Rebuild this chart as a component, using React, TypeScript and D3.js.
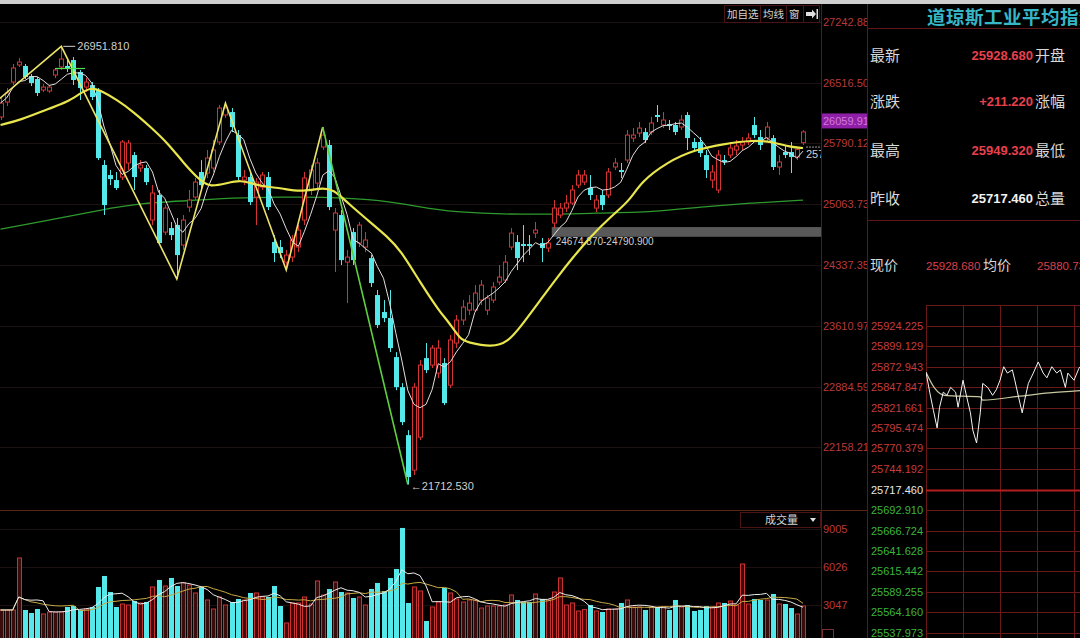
import React from 'react';
import * as d3 from 'd3';

// ---------- Daily candles (Dow Jones Industrial Average) ----------
const OPEN = [26107,26286,26525,26729,26717,26597,26561,26430,26418,26609,26705,26717,26788,26645,26465,26489,26430,25533,25413,25353,25389,25557,25652,25497,25497,24875,25174,24731,24779,24815,24576,25030,25150,25449,25437,25497,25808,26131,26166,25891,25353,25389,25150,25269,25389,24612,24552,24372,24432,24552,24875,25234,25317,25748,25772,24755,24935,24372,24731,24600,24552,24420,23978,23775,23703,23236,22877,22303,21885,22279,23224,23141,23045,23165,22901,23404,23679,23798,23798,23918,23798,23918,24133,24157,24552,24612,24588,24588,24719,24600,24540,24839,24935,25018,25078,25293,25329,25258,25018,25174,25174,25509,25473,25592,25855,25915,25927,25927,26131,26011,26023,26011,25987,26131,25808,25808,25652,25353,25234,25592,25652,25712,25772,25808,26011,25867,25855,25855,25509,25688,25688,25628,25800];
const HIGH = [26334,26453,26741,26812,26741,26621,26585,26501,26489,26693,26951.81,26788,26824,26669,26573,26525,26453,25592,25473,25449,25832,25832,25688,25592,25533,25293,25234,25054,24851,24899,24935,25234,25377,25592,25712,25832,26250,26274,26214,25951,25473,25449,25377,25449,25449,24695,24636,24516,24695,24815,25449,25533,25616,25987,25832,25018,24994,24516,24779,24851,24731,24456,24038,23918,24038,23296,22925,22363,22925,23200,23404,23380,23440,23224,23499,23739,23918,23978,24097,24157,23978,24133,24337,24456,24779,24695,24815,24695,24851,24660,24660,25114,25078,25174,25293,25473,25473,25413,25174,25234,25497,25616,25557,25951,25975,26047,25975,26107,26250,26166,26071,26047,26131,26166,25855,25867,25712,25533,25712,25652,25808,25832,25867,25915,26107,25951,26047,25891,25652,25772,25808,25736,25949.32];
const LOW = [26071,26238,26489,26705,26561,26477,26358,26406,26394,26573,26669,26645,26489,26310,26406,26310,25592,24935,25293,25234,25353,25473,25234,25449,25293,24815,24576,24695,24636,24170,24516,24971,25114,25258,25377,25449,25772,26095,25927,25353,25293,25054,24815,25234,24994,24372,24420,24277,24372,24492,24815,25174,25258,25712,24994,24253,24337,23882,24337,24552,24492,24074,23583,23655,23296,22841,22423,21712.53,21825,22244,23045,23105,22985,22662,22865,23344,23619,23739,23775,23858,23739,23882,24097,24121,24516,24277,24372,24456,24660,24372,24492,24779,24899,24971,25054,25258,25293,25114,24971,24994,25138,25473,25377,25557,25808,25867,25796,25891,26047,25975,25951,25891,25951,25712,25688,25628,25377,25258,25198,25533,25616,25652,25712,25772,25855,25712,25808,25473,25413,25616,25437,25592,25772];
const CLOSE = [26274,26394,26693,26764,26585,26513,26394,26465,26465,26669,26800,26693,26549,26453,26525,26346,25616,25054,25365,25258,25808,25796,25389,25533,25329,25198,24600,25018,24695,24456,24875,25114,25329,25293,25616,25712,26214,26214,25987,25389,25389,25090,25329,25413,25030,24480,24480,24456,24636,24755,25377,25473,25557,25891,25030,24959,24396,24432,24396,24815,24636,24121,23619,23703,23344,22877,22459,21801,22877,23141,23081,23344,23344,22686,23440,23679,23834,23882,24002,24097,23942,24074,24193,24372,24719,24420,24564,24564,24755,24540,24600,25018,25018,25078,25234,25413,25413,25174,25114,25054,25449,25557,25449,25891,25891,25975,25832,26035,26107,26071,25999,25927,26071,25855,25736,25676,25473,25449,25652,25569,25736,25760,25808,25855,25891,25772,25987,25509,25569,25652,25628,25717.46,25928.68];
const VOLUME = [2658,2658,2658,6735,2658,2423,2736,2344,2501,2501,2501,2893,2971,2658,2736,2893,4461,5323,4069,2893,3128,3050,3363,3207,3285,4461,5010,4539,5167,4539,4775,4618,3991,4461,3442,2736,3677,3050,3285,3520,3442,3991,3991,3677,3677,4539,2971,1639,3207,3207,3677,3128,4931,3834,4304,4853,4069,3991,3599,3677,3050,4304,4775,4147,5167,5872,9087,3207,4461,4147,1795,2893,3285,4383,3991,3520,3285,3442,3442,2815,2971,2971,2971,3050,3834,3442,3285,3285,3912,3520,3442,4069,5167,3050,3207,2579,2700,3050,2579,2501,2736,2736,3207,3442,2893,2893,2658,2893,2893,2893,2658,3442,2893,3050,2579,2658,2971,2893,3207,3207,3363,3050,6264,3128,3520,3442,3442,3912,3128,3128,2815,2344,2971];

// moving averages (yellow MA20, green long MA)
const MA20_IDX = [0,3.3,8.2,11,13.2,14.8,16.1,19.2,21.9,24.7,27.5,30.1,32.9,34.5,37.3,39.5,41.6,43.9,46.1,49.3,52.6,54.8,57.1,60.4,63.7,65.8,69.1,72.4,73.5,75.7,76.8,80.6,83.4,86,88.8,91.6,94.2,97,100.3,103.6,105.3,109.7,114,118.9,123.8,127.1,129.9,132];
const MA20_VAL = [26011,26071,26214,26286,26394,26453,26441,26310,26166,25987,25796,25557,25341,25269,25317,25353,25305,25269,25258,25210,25258,25246,25078,24875,24672,24516,24121,23762,23679,23440,23416,23356,23404,23643,23918,24193,24432,24672,24911,25114,25329,25569,25712,25784,25832,25808,25748,25736];
const MALONG_IDX = [0,8.2,16.4,23,32.9,37.8,46,54.3,62.5,69.1,74,85.5,98.7,107.4,115.1,123.4,132];
const MALONG_VAL = [24767,24875,24994,25078,25114,25138,25150,25150,25114,25030,24971,24935,24959,24971,25030,25078,25114];

// hand-drawn trend lines
const ZIGZAG_IDX = [-1,10,29,37,47,53];
const ZIGZAG_VAL = [26274,26951.81,24170,26274,24277,25987];
const GREEN_TREND_IDX = [53,67];
const GREEN_TREND_VAL = [25987,21712.53];

const PRICE_TICKS = [27242.88,26516.50,25790.12,25063.73,24337.35,23610.97,22884.59,22158.21];
const PRICE_TICK_LABELS = ['27242.88','26516.50','25790.12','25063.73','24337.35','23610.97','22884.59','22158.21'];
const VOL_TICKS = [9005,6026,3047];
const CROSS_PRICE = 26059.91;
const BAND_LOW = 24674.87;
const BAND_HIGH = 24790.90;
const BAND_START = 91;
const BAND_LABEL = '24674.870-24790.900';
const HIGH_LABEL = '26951.810';
const LOW_LABEL = '21712.530';
const LAST_LABEL = '25717.460';

// right info panel
const TITLE = '道琼斯工业平均指数';
const INFO_LEFT = ['最新','涨跌','最高','昨收'];
const INFO_VALUES = ['25928.680','+211.220','25949.320','25717.460'];
const INFO_RIGHT = ['开盘','涨幅','最低','总量'];
const PREV_CLOSE = 25717.46;

// intraday panel
const INTRA_TICKS = [25924.225,25899.129,25872.943,25847.847,25821.661,25795.474,25770.379,25744.192,25717.460,25692.910,25666.724,25641.628,25615.442,25589.255,25564.160,25537.973];
const INTRA_MIN = [0,3,6,9,11,14,17,20,24,26,30,33,36,38,41,44,46,50,54,57,60,63,66,70,72,75,78,80,83,87,91,95,98,102,106,109,113,115,120,124,125];
const INTRA_PRICE = [25866,25841,25818,25796,25822,25841,25837,25847,25841,25822,25856,25835,25815,25793,25777,25815,25852,25847,25837,25844,25856,25873,25865,25869,25856,25835,25815,25831,25852,25865,25879,25865,25859,25873,25865,25869,25847,25865,25856,25871,25873];
const INTRA_AVG_MIN = [0,7,15,44,46,76,100,125];
const INTRA_AVG_PRICE = [25866,25846,25837,25835,25831,25836,25840,25843];
const INTRA_GRID_MIN = [0,30,60,90,120];

const SANS = '"Liberation Sans", Arial, sans-serif';
const CJK = '"Noto Sans CJK SC", sans-serif';
const RED = '#d43434';
const CYAN = '#54e8ea';
const AXIS_RED = '#b83a3a';
const LINE_RED = '#5e1616';

function movingAvg(arr: number[], n: number) {
  return arr.map((_, i) => d3.mean(arr.slice(Math.max(0, i - n + 1), i + 1)) as number);
}

export default function App() {
  const x = d3.scaleLinear().domain([0, 132]).range([0.5, 803]);
  const y = d3.scaleLinear().domain([22158.21, 27242.88]).range([447.25, 22]);
  const yv = d3.scaleLinear().domain([0, 9005]).range([643.9, 529]);
  const xi = d3.scaleLinear().domain([0, 30]).range([926, 963]);
  const yi = d3.scaleLinear().domain([25537.973, 25924.225]).range([633, 326]);

  const ma5 = movingAvg(CLOSE, 5);
  const vma5 = movingAvg(VOLUME, 5);
  const vma10 = movingAvg(VOLUME, 10);

  const lineIdx = d3.line<number>().x((_, i) => x(i)).y(d => y(d));
  const curve = (idx: number[], val: number[]) =>
    d3.line<number>().x((_, i) => x(idx[i])).y(d => y(d)).curve(d3.curveBasis)(val) || '';
  const straight = (idx: number[], val: number[]) =>
    d3.line<number>().x((_, i) => x(idx[i])).y(d => y(d))(val) || '';
  const volLine = d3.line<number>().x((_, i) => x(i)).y(d => yv(d));
  const intraLine = d3.line<number>().x((_, i) => xi(INTRA_MIN[i])).y(d => yi(d));
  const intraAvg = d3.line<number>().x((_, i) => xi(INTRA_AVG_MIN[i])).y(d => yi(d)).curve(d3.curveMonotoneX);

  const bw = 4;

  return (
    <div style={{ width: 1080, height: 638, background: '#000' }}>
      <style>{`body{margin:0;background:#000;overflow:hidden}`}</style>
      <svg width={1080} height={638} style={{ display: 'block', background: '#000' }}>
        <defs>
          <clipPath id="priceClip"><rect x={0} y={5} width={821} height={505} /></clipPath>
          <clipPath id="volClip"><rect x={0} y={511} width={821} height={127} /></clipPath>
          <clipPath id="axisClip"><rect x={821} y={0} width={46} height={638} /></clipPath>
          <clipPath id="panelClip"><rect x={868} y={0} width={212} height={638} /></clipPath>
          <clipPath id="intraClip"><rect x={926} y={305} width={154} height={333} /></clipPath>
        </defs>

        {/* top window strip */}
        <rect x={0} y={0} width={1080} height={4} fill="#cfcfcf" />

        {/* faint grid */}
        {PRICE_TICKS.map((t, k) => (
          <line key={'g' + k} x1={0} x2={821} y1={Math.round(y(t)) + 0.5} y2={Math.round(y(t)) + 0.5} stroke="#1c1212" />
        ))}

        <g clipPath="url(#priceClip)">
          {/* price band */}
          <rect x={x(BAND_START) - 2} y={y(BAND_HIGH)} width={821 - x(BAND_START) + 2} height={y(BAND_LOW) - y(BAND_HIGH)} fill="#595959" />
          <text x={x(BAND_START) + 2} y={y(BAND_LOW) + 8} fill="#cfcfcf" fontSize={10} fontFamily={SANS}>{BAND_LABEL}</text>

          {/* long MA */}
          <path d={curve(MALONG_IDX, MALONG_VAL)} fill="none" stroke="#2e9a2e" strokeWidth={1.3} />

          {/* candles */}
          {CLOSE.map((c, i) => {
            const o = OPEN[i];
            const up = c >= o;
            const cx = Math.round(x(i));
            const top = y(Math.max(o, c));
            const bot = y(Math.min(o, c));
            const h = Math.max(1, bot - top);
            if (up) {
              return (
                <g key={i}>
                  <line x1={cx + 0.5} x2={cx + 0.5} y1={y(HIGH[i])} y2={top} stroke={RED} />
                  <line x1={cx + 0.5} x2={cx + 0.5} y1={top + h} y2={y(LOW[i])} stroke={RED} />
                  <rect x={cx - 1.5} y={top} width={bw} height={h} fill="#000" stroke={RED} strokeWidth={1} />
                </g>
              );
            }
            return (
              <g key={i}>
                <line x1={cx + 0.5} x2={cx + 0.5} y1={y(HIGH[i])} y2={y(LOW[i])} stroke={CYAN} />
                <rect x={cx - 2} y={top} width={bw + 1} height={h} fill={CYAN} />
              </g>
            );
          })}

          {/* MA5 white */}
          <path d={lineIdx(ma5) || ''} fill="none" stroke="#e6dede" strokeWidth={1} />
          {/* MA20 yellow */}
          <path d={curve(MA20_IDX, MA20_VAL)} fill="none" stroke="#e8e64c" strokeWidth={2.2} />
          {/* trend lines */}
          <path d={straight(ZIGZAG_IDX, ZIGZAG_VAL)} fill="none" stroke="#ece46a" strokeWidth={1.6} />
          <path d={straight(GREEN_TREND_IDX, GREEN_TREND_VAL)} fill="none" stroke="#5ed040" strokeWidth={1.6} />
          {/* small green marker */}
          <line x1={55} x2={85} y1={68.5} y2={68.5} stroke="#50e050" strokeWidth={1.2} />
          <line x1={72.5} x2={72.5} y1={62} y2={76} stroke="#50e050" strokeWidth={1} />

          {/* high / low labels */}
          <line x1={x(10) + 2} x2={x(10) + 14} y1={y(26951.81)} y2={y(26951.81)} stroke="#cfcfcf" />
          <text x={x(10) + 16} y={y(26951.81) + 4} fill="#cfcfcf" fontSize={11} fontFamily={SANS}>{HIGH_LABEL}</text>
          <text x={x(67) + 3} y={y(21712.53) + 5} fill="#cfcfcf" fontSize={11} fontFamily={SANS}>{'←' + LOW_LABEL}</text>

          {/* last price tag */}
          <line x1={x(132) + 3} x2={821} y1={y(PREV_CLOSE) - 2.5} y2={y(PREV_CLOSE) - 2.5} stroke="#9a9a9a" strokeDasharray="2,1" />
          <text x={x(132) + 3} y={y(PREV_CLOSE) + 8} fill="#d0d0d0" fontSize={11} fontFamily={SANS}>{LAST_LABEL}</text>
        </g>

        {/* toolbar */}
        <rect x={724.5} y={5.5} width={95} height={17} fill="#000" stroke="#4a1414" />
        <text x={727} y={18} fill="#d4d4d4" fontSize={10.5} fontFamily={CJK}>加自选</text>
        <line x1={760.5} x2={760.5} y1={6} y2={22} stroke="#4a1414" />
        <text x={763} y={18} fill="#d4d4d4" fontSize={10.5} fontFamily={CJK}>均线</text>
        <line x1={786.5} x2={786.5} y1={6} y2={22} stroke="#4a1414" />
        <text x={789} y={18} fill="#d4d4d4" fontSize={10.5} fontFamily={CJK}>窗</text>
        <line x1={803.5} x2={803.5} y1={6} y2={22} stroke="#4a1414" />
        <path d="M806,12 L812,12 L812,9.5 L816,14 L812,18.5 L812,16 L806,16 Z" fill="#e0e0e0" />
        <rect x={816.5} y={9} width={1.5} height={10} fill="#e0e0e0" />

        {/* separators */}
        <line x1={0} x2={867} y1={510.5} y2={510.5} stroke="#5a2418" />
        <line x1={821.5} x2={821.5} y1={4} y2={638} stroke={LINE_RED} />
        <line x1={867.5} x2={867.5} y1={4} y2={638} stroke={LINE_RED} />

        {/* price axis labels */}
        <g clipPath="url(#axisClip)">
          {PRICE_TICKS.map((t, k) => (
            <text key={'t' + k} x={823} y={y(t) + 4} fill={AXIS_RED} fontSize={11} fontFamily={SANS}>{PRICE_TICK_LABELS[k]}</text>
          ))}
          <rect x={822} y={y(CROSS_PRICE) - 7.5} width={46} height={15} fill="#8e1fa6" />
          <text x={823} y={y(CROSS_PRICE) + 4} fill="#d27ad8" fontSize={11} fontFamily={SANS}>{d3.format('.2f')(CROSS_PRICE)}</text>
          {VOL_TICKS.map((t, k) => (
            <text key={'v' + k} x={823} y={yv(t) + 4} fill={AXIS_RED} fontSize={11} fontFamily={SANS}>{t}</text>
          ))}
          <rect x={822.5} y={629.5} width={11} height={10} fill="none" stroke="#7a3030" />
        </g>

        {/* volume panel */}
        {VOL_TICKS.map((t, k) => (
          <line key={'vg' + k} x1={0} x2={821} y1={Math.round(yv(t)) + 0.5} y2={Math.round(yv(t)) + 0.5} stroke="#1c1010" />
        ))}
        <rect x={740.5} y={512.5} width={80} height={15} fill="#000" stroke="#4a1414" />
        <text x={765} y={524} fill="#d4d4d4" fontSize={11} fontFamily={CJK}>成交量</text>
        <path d="M810,518 L816,518 L813,522 Z" fill="#e0e0e0" />
        <g clipPath="url(#volClip)">
          {VOLUME.map((v, i) => {
            const up = CLOSE[i] >= OPEN[i];
            const cx = Math.round(x(i));
            const top = yv(v);
            return up ? (
              <rect key={i} x={cx - 1.5} y={top} width={bw} height={650 - top} fill="#3a0c0c" stroke="#c83232" strokeWidth={1} />
            ) : (
              <rect key={i} x={cx - 2} y={top} width={bw + 1} height={650 - top} fill={CYAN} />
            );
          })}
          <path d={volLine(vma10) || ''} fill="none" stroke="#c8aa44" strokeWidth={1} />
          <path d={volLine(vma5) || ''} fill="none" stroke="#ececec" strokeWidth={1} />
        </g>

        {/* right info panel */}
        <g clipPath="url(#panelClip)">
          <text x={927} y={24} fill="#36b6c6" fontSize={18.5} fontWeight={700} fontFamily={CJK} letterSpacing={0.5}>{TITLE}</text>
          <line x1={868} x2={1080} y1={28.5} y2={28.5} stroke={LINE_RED} />
          {INFO_LEFT.map((s, k) => {
            const by = [61, 107, 156, 204][k];
            return (
              <g key={'info' + k}>
                <text x={870} y={by} fill="#d8d8d8" fontSize={15} fontFamily={CJK}>{s}</text>
                <text x={1033} y={by - 1} textAnchor="end" fill={k === 3 ? '#f2f2f2' : '#e8404e'} fontSize={13} fontWeight={700} fontFamily={SANS}>{INFO_VALUES[k]}</text>
                <text x={1035} y={by} fill="#d8d8d8" fontSize={15} fontFamily={CJK}>{INFO_RIGHT[k]}</text>
              </g>
            );
          })}
          <line x1={868} x2={1080} y1={220.5} y2={220.5} stroke={LINE_RED} />
          <text x={870} y={270} fill="#d8d8d8" fontSize={14} fontFamily={CJK}>现价</text>
          <text x={926} y={270} fill="#d8404c" fontSize={11.5} fontFamily={SANS}>25928.680</text>
          <text x={983} y={270} fill="#d8d8d8" fontSize={14} fontFamily={CJK}>均价</text>
          <text x={1037} y={270} fill="#d8404c" fontSize={11.5} fontFamily={SANS}>25880.73</text>

          {/* intraday grid */}
          <line x1={926} x2={1080} y1={305.5} y2={305.5} stroke="#6a1818" />
          {INTRA_GRID_MIN.map((m, k) => (
            <line key={'ig' + k} x1={Math.round(xi(m)) + 0.5} x2={Math.round(xi(m)) + 0.5} y1={305} y2={638} stroke="#6a1818" />
          ))}
          {INTRA_TICKS.map((t, k) => {
            const isPrev = Math.abs(t - PREV_CLOSE) < 0.01;
            const col = isPrev ? '#e8e8e8' : t > PREV_CLOSE ? '#c43c3c' : '#3cb43c';
            return (
              <g key={'it' + k}>
                <line x1={926} x2={1080} y1={Math.round(yi(t)) + 0.5} y2={Math.round(yi(t)) + 0.5} stroke={isPrev ? '#b42020' : '#6a1818'} strokeWidth={isPrev ? 2 : 1} />
                <text x={871} y={yi(t) + 4} fill={col} fontSize={11} fontFamily={SANS}>{d3.format('.3f')(t)}</text>
              </g>
            );
          })}
          <g clipPath="url(#intraClip)">
            <path d={intraAvg(INTRA_AVG_PRICE) || ''} fill="none" stroke="#c8c8a0" strokeWidth={1.2} />
            <path d={intraLine(INTRA_PRICE) || ''} fill="none" stroke="#f4f4f4" strokeWidth={1} />
          </g>
        </g>
      </svg>
    </div>
  );
}
